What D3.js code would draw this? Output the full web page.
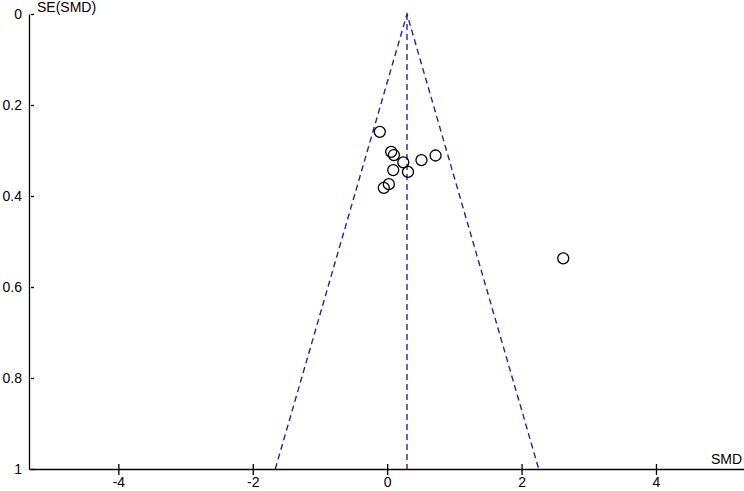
<!DOCTYPE html>
<html lang="en">
<head>
<meta charset="UTF-8">
<title>Funnel plot</title>
<script src="https://d3js.org/d3.v7.min.js"></script>
<style>
    body { margin: 0; padding: 0; background: #fff; }
    svg { display: block; font-family: "Liberation Sans", Arial, sans-serif; }
    .axis path, .axis line { stroke: #000; stroke-width: 1.3px; }
    .axis text { fill: #000; }
</style>
</head>
<body>
<svg width="744" height="491"></svg>
<script>
// study estimates
const smd = [-0.11, 0.06, 0.10, 0.24, 0.51, 0.72, 0.09, 0.31, -0.05, 0.025, 2.62];
const se  = [0.259, 0.303, 0.310, 0.326, 0.321, 0.311, 0.343, 0.347, 0.382, 0.374, 0.537];
const pooled = 0.295;
const xTicks = [-4, -2, 0, 2, 4];
const yTicks = [0, 0.2, 0.4, 0.6, 0.8, 1];

const svg = d3.select("svg");
const width = +svg.attr("width");

const x = d3.scaleLinear().domain([-5.33, 5.31]).range([29, 744]);
const y = d3.scaleLinear().domain([0, 1]).range([14, 469]);

// funnel (95% limits) and pooled line
const blue = "#2222aa";
const funnel = [[pooled - 1.96, 1], [pooled, 0], [pooled + 1.96, 1]];
svg.append("path")
    .attr("d", d3.line().x(d => x(d[0])).y(d => y(d[1]))(funnel))
    .attr("fill", "none")
    .attr("stroke", blue)
    .attr("stroke-width", 1.4)
    .attr("stroke-dasharray", "6,4");

svg.append("line")
    .attr("x1", x(pooled)).attr("x2", x(pooled))
    .attr("y1", y(0)).attr("y2", y(1))
    .attr("stroke", blue)
    .attr("stroke-width", 1.4)
    .attr("stroke-dasharray", "6,4");

// axes
const yAxis = svg.append("g")
    .attr("class", "axis")
    .attr("transform", `translate(${x.range()[0]},0)`)
    .call(d3.axisLeft(y).tickValues(yTicks).tickFormat(d => String(d)).tickSizeInner(-5).tickSizeOuter(0))
    .attr("font-family", "Liberation Sans, Arial, sans-serif")
    .attr("font-size", 14);
yAxis.selectAll(".tick line").attr("x1", 2);
yAxis.selectAll(".tick text").attr("x", -7);

const xAxis = svg.append("g")
    .attr("class", "axis")
    .attr("transform", `translate(0,${y(1)})`)
    .call(d3.axisBottom(x).tickValues(xTicks).tickFormat(d => String(d)).tickSize(6).tickSizeOuter(0))
    .attr("font-family", "Liberation Sans, Arial, sans-serif")
    .attr("font-size", 14);
xAxis.selectAll(".tick line").attr("y1", -5);
xAxis.selectAll(".tick text").attr("y", 8);

// axis titles
svg.append("text")
    .attr("x", 37).attr("y", 12)
    .attr("font-size", 14)
    .text("SE(SMD)");
svg.append("text")
    .attr("x", width - 2).attr("y", 464)
    .attr("text-anchor", "end")
    .attr("font-size", 14)
    .text("SMD");

// studies
svg.append("g")
    .selectAll("circle")
    .data(smd.map((d, i) => ({ smd: d, se: se[i] })))
    .join("circle")
    .attr("cx", d => x(d.smd))
    .attr("cy", d => y(d.se))
    .attr("r", 5.5)
    .attr("fill", "none")
    .attr("stroke", "#000")
    .attr("stroke-width", 1.3);
</script>
</body>
</html>
